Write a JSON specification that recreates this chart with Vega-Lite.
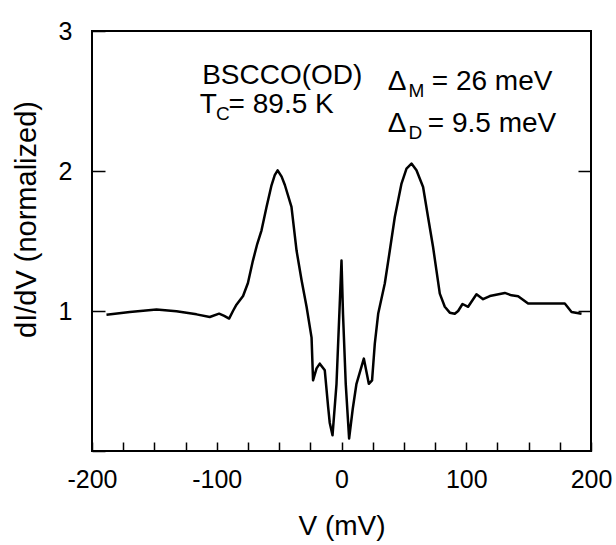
{
  "$schema": "https://vega.github.io/schema/vega-lite/v6.json",
  "width": 499,
  "height": 420,
  "autosize": {"type": "none"},
  "padding": {"left": 92, "top": 31, "right": 25, "bottom": 94},
  "background": "white",
  "config": {
    "view": {"stroke": "black", "strokeWidth": 2},
    "font": "Liberation Sans",
    "axis": {"labelFont": "Liberation Sans", "titleFont": "Liberation Sans", "labelColor": "black", "titleColor": "black", "tickColor": "black", "titleFontWeight": "normal", "grid": false, "domain": false}
  },
  "datasets": {
    "curve": [
      {"V": -188.4, "G": 0.974}, {"V": -169.7, "G": 0.993}, {"V": -148.3, "G": 1.01}, {"V": -132.3, "G": 0.998},
      {"V": -116.2, "G": 0.976}, {"V": -105.6, "G": 0.957}, {"V": -98.1, "G": 0.981}, {"V": -94, "G": 0.965},
      {"V": -90.1, "G": 0.946}, {"V": -87, "G": 1.0}, {"V": -84.2, "G": 1.045}, {"V": -78.9, "G": 1.107},
      {"V": -75, "G": 1.2}, {"V": -71, "G": 1.36}, {"V": -67.5, "G": 1.48}, {"V": -64.1, "G": 1.576},
      {"V": -60.1, "G": 1.743}, {"V": -56.1, "G": 1.898}, {"V": -53.5, "G": 1.97}, {"V": -51.2, "G": 2.005},
      {"V": -48, "G": 1.96}, {"V": -45.4, "G": 1.9}, {"V": -40.1, "G": 1.743}, {"V": -36, "G": 1.43},
      {"V": -32, "G": 1.22}, {"V": -28, "G": 1.03}, {"V": -24, "G": 0.81}, {"V": -22.8, "G": 0.505},
      {"V": -20, "G": 0.59}, {"V": -17.4, "G": 0.624}, {"V": -13.4, "G": 0.576}, {"V": -10.7, "G": 0.314},
      {"V": -9.4, "G": 0.2}, {"V": -7.2, "G": 0.112}, {"V": -4, "G": 0.48}, {"V": 0, "G": 1.36},
      {"V": 1.2, "G": 0.98}, {"V": 3.4, "G": 0.48}, {"V": 6.1, "G": 0.089}, {"V": 9, "G": 0.3},
      {"V": 12, "G": 0.48}, {"V": 17.9, "G": 0.66}, {"V": 21.9, "G": 0.48}, {"V": 24.5, "G": 0.505},
      {"V": 26.7, "G": 0.767}, {"V": 29.4, "G": 0.98}, {"V": 34.7, "G": 1.196}, {"V": 38.7, "G": 1.43},
      {"V": 42.7, "G": 1.67}, {"V": 48.1, "G": 1.91}, {"V": 52.1, "G": 2.017}, {"V": 56.1, "G": 2.053},
      {"V": 60.1, "G": 2.005}, {"V": 65.4, "G": 1.886}, {"V": 69.4, "G": 1.67}, {"V": 73.4, "G": 1.457},
      {"V": 76.1, "G": 1.29}, {"V": 78.8, "G": 1.124}, {"V": 82.8, "G": 1.03}, {"V": 86.8, "G": 0.988},
      {"V": 90.8, "G": 0.98}, {"V": 93.5, "G": 1.0}, {"V": 97, "G": 1.05}, {"V": 101.5, "G": 1.03},
      {"V": 108.2, "G": 1.12}, {"V": 113.5, "G": 1.084}, {"V": 118.9, "G": 1.107}, {"V": 130.9, "G": 1.129},
      {"V": 136.3, "G": 1.112}, {"V": 141.6, "G": 1.105}, {"V": 149.6, "G": 1.053}, {"V": 179, "G": 1.053},
      {"V": 184.4, "G": 0.993}, {"V": 192.4, "G": 0.98}
    ],
    "mainText": [
      {"V": -111.7, "G": 2.619, "t": "BSCCO(OD)"},
      {"V": -113.6, "G": 2.412, "t": "T"},
      {"V": -90.5, "G": 2.412, "t": "= 89.5 K"},
      {"V": 37.1, "G": 2.576, "t": "Δ"},
      {"V": 72.4, "G": 2.576, "t": "= 26 meV"},
      {"V": 37.1, "G": 2.276, "t": "Δ"},
      {"V": 69.2, "G": 2.276, "t": "= 9.5 meV"}
    ],
    "subText": [
      {"V": -100.6, "G": 2.362, "t": "C"},
      {"V": 53.8, "G": 2.526, "t": "M"},
      {"V": 53.8, "G": 2.226, "t": "D"}
    ]
  },
  "encoding": {
    "x": {"field": "V", "type": "quantitative", "scale": {"domain": [-200, 200], "nice": false, "zero": false},
      "axis": {"values": [-200, -175, -150, -125, -100, -75, -50, -25, 0, 25, 50, 75, 100, 125, 150, 175, 200],
        "labelExpr": "datum.value % 100 === 0 ? '' + datum.value : ''",
        "tickSize": -9, "tickWidth": 1.5, "labelFontSize": 25, "labelPadding": 25, "labelOverlap": false, "labelFlush": false, "labelBound": false,
        "title": "V (mV)", "titleFontSize": 28, "titlePadding": 20}}
  },
  "layer": [
    {
      "data": {"name": "curve"},
      "mark": {"type": "line", "color": "black", "strokeWidth": 2.5, "strokeJoin": "round"},
      "encoding": {
        "y": {"field": "G", "type": "quantitative", "scale": {"domain": [0, 3], "nice": false, "zero": false},
          "axis": {"values": [0, 1, 2, 3], "labelExpr": "datum.value === 0 ? '' : '' + datum.value",
            "tickSize": -13, "tickWidth": 1.5, "labelFontSize": 25, "labelPadding": 33, "labelOverlap": false, "labelFlush": false,
            "title": "dI/dV (normalized)", "titleFontSize": 29, "titlePadding": 17, "titleY": 188}}
      }
    },
    {
      "data": {"name": "curve"},
      "mark": {"type": "line", "strokeOpacity": 0},
      "encoding": {
        "y": {"field": "G", "type": "quantitative",
          "axis": {"orient": "right", "values": [1, 2], "labels": false, "title": null, "tickSize": -13, "tickWidth": 1.5}}
      }
    },
    {
      "data": {"name": "mainText"},
      "mark": {"type": "text", "align": "left", "baseline": "alphabetic", "fontSize": 28, "color": "black", "font": "Liberation Sans"},
      "encoding": {
        "y": {"field": "G", "type": "quantitative", "axis": null},
        "text": {"field": "t"}
      }
    },
    {
      "data": {"name": "subText"},
      "mark": {"type": "text", "align": "left", "baseline": "alphabetic", "fontSize": 19, "color": "black", "font": "Liberation Sans"},
      "encoding": {
        "y": {"field": "G", "type": "quantitative", "axis": null},
        "text": {"field": "t"}
      }
    }
  ],
  "resolve": {"axis": {"y": "independent"}}
}
